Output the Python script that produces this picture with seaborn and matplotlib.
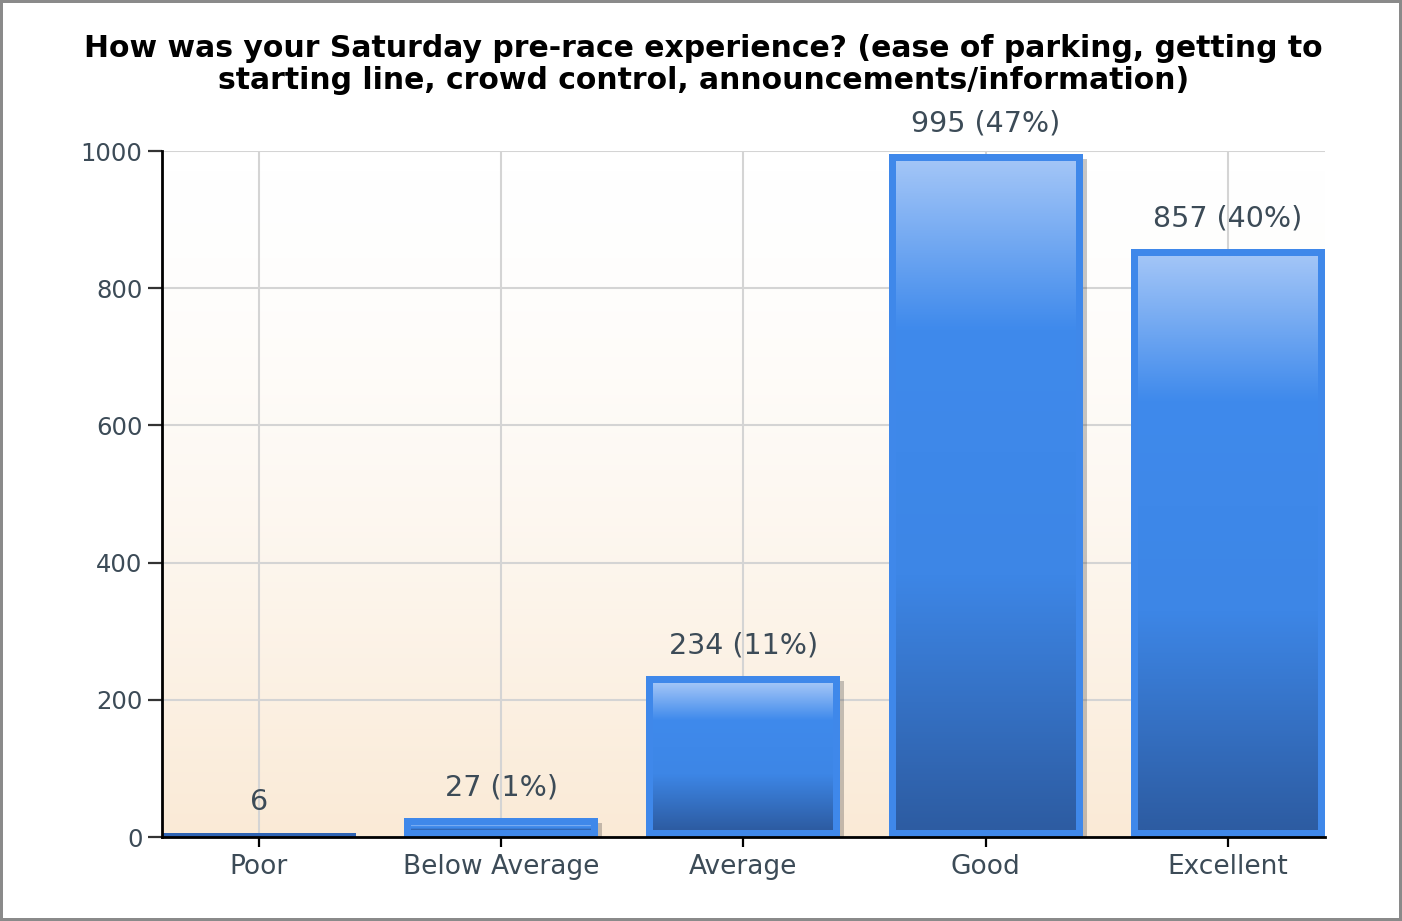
import numpy as np
import matplotlib
matplotlib.use("Agg")
import matplotlib.pyplot as plt
import matplotlib.patheffects as pe
from matplotlib.colors import LinearSegmentedColormap
import seaborn as sns

# --- Data ---
categories = ["Poor", "Below Average", "Average", "Good", "Excellent"]
counts = [6, 27, 234, 995, 857]
bar_labels = ["6", "27 (1%)", "234 (11%)", "995 (47%)", "857 (40%)"]
y_ticks = [0, 200, 400, 600, 800, 1000]

title = ("How was your Saturday pre-race experience? (ease of parking, getting to\n"
         "starting line, crowd control, announcements/information)")

# --- Style ---
sns.set_style("white")
plt.rcParams["font.family"] = ["DejaVu Sans"]

edge_blue = "#3f88ea"
text_grey = "#3c4b57"
bar_cmap = LinearSegmentedColormap.from_list(
    "bar", [(0.0, "#a2c5f7"), (0.25, "#3f8aec"), (0.62, "#3d86e6"), (1.0, "#2d5ca2")])
bg_cmap = LinearSegmentedColormap.from_list("bg", ["#ffffff", "#faead6"])

fig = plt.figure(figsize=(14.02, 9.21), dpi=100)
fig.patch.set_edgecolor("#8a8a8a")
fig.patch.set_linewidth(3)
ax = fig.add_axes([0.1155, 0.0912, 0.8295, 0.7448])

# background gradient inside the plot area
bg = np.linspace(0, 1, 256).reshape(-1, 1) ** 1.6
ax.imshow(bg, extent=[0, 1, 0, 1], transform=ax.transAxes, aspect="auto",
          cmap=bg_cmap, origin="upper", zorder=0)

sns.barplot(x=categories, y=counts, color=edge_blue, width=0.8, linewidth=0,
            saturation=1, ax=ax, zorder=2)

ax.set_xlim(-0.4, 4.4)
ax.set_ylim(0, 1000)

# pixel -> data scale for the inner gradient inset
bbox = ax.get_window_extent()
px_x = 4.8 / bbox.width
px_y = 1000 / bbox.height
inset = 7

grad = np.linspace(0, 1, 256).reshape(-1, 1)
for p, lab in zip(ax.patches, bar_labels):
    p.set_path_effects([pe.SimplePatchShadow(offset=(3, -3), shadow_rgbFace="#444444", alpha=0.3),
                        pe.Normal()])
    x0, w, h = p.get_x(), p.get_width(), p.get_height()
    if h / px_y > 2 * inset:
        ax.imshow(grad, extent=[x0 + inset * px_x, x0 + w - inset * px_x, inset * px_y, h - inset * px_y],
                  aspect="auto", cmap=bar_cmap, origin="upper", zorder=3, interpolation="bilinear")
    elif h / px_y > 8:
        ax.imshow(grad, extent=[x0 + inset * px_x, x0 + w - inset * px_x, h * 0.4, h * 0.6],
                  aspect="auto", cmap=LinearSegmentedColormap.from_list("s", ["#6aa6f2", "#6aa6f2"]),
                  origin="upper", zorder=3)
    else:
        p.set_facecolor("#2f64b4")
    ax.annotate(lab, (x0 + w / 2, h), xytext=(0, 22), textcoords="offset points",
                ha="center", va="center", fontsize=20.5, color=text_grey, annotation_clip=False)

ax.set_xlim(-0.4, 4.4)
ax.set_ylim(0, 1000)
ax.set_yticks(y_ticks)
ax.set_xlabel("")
ax.set_ylabel("")

ax.set_axisbelow(True)
ax.grid(True, color="#d4d4d4", linewidth=1.5)
sns.despine(ax=ax)
for s in ["left", "bottom"]:
    ax.spines[s].set_color("black")
    ax.spines[s].set_linewidth(2)
ax.tick_params(axis="y", direction="out", length=10, width=1.6, color="#333333",
               labelsize=17.5, labelcolor=text_grey, pad=4, left=True)
ax.tick_params(axis="x", direction="out", length=7, width=1.6, color="black",
               labelsize=19, labelcolor=text_grey, pad=5, bottom=True)

fig.text(0.502, 0.930, title, ha="center", va="center", fontsize=21.5,
         fontweight="bold", color="black", linespacing=1.17)

fig.savefig("out.png", dpi=100)
